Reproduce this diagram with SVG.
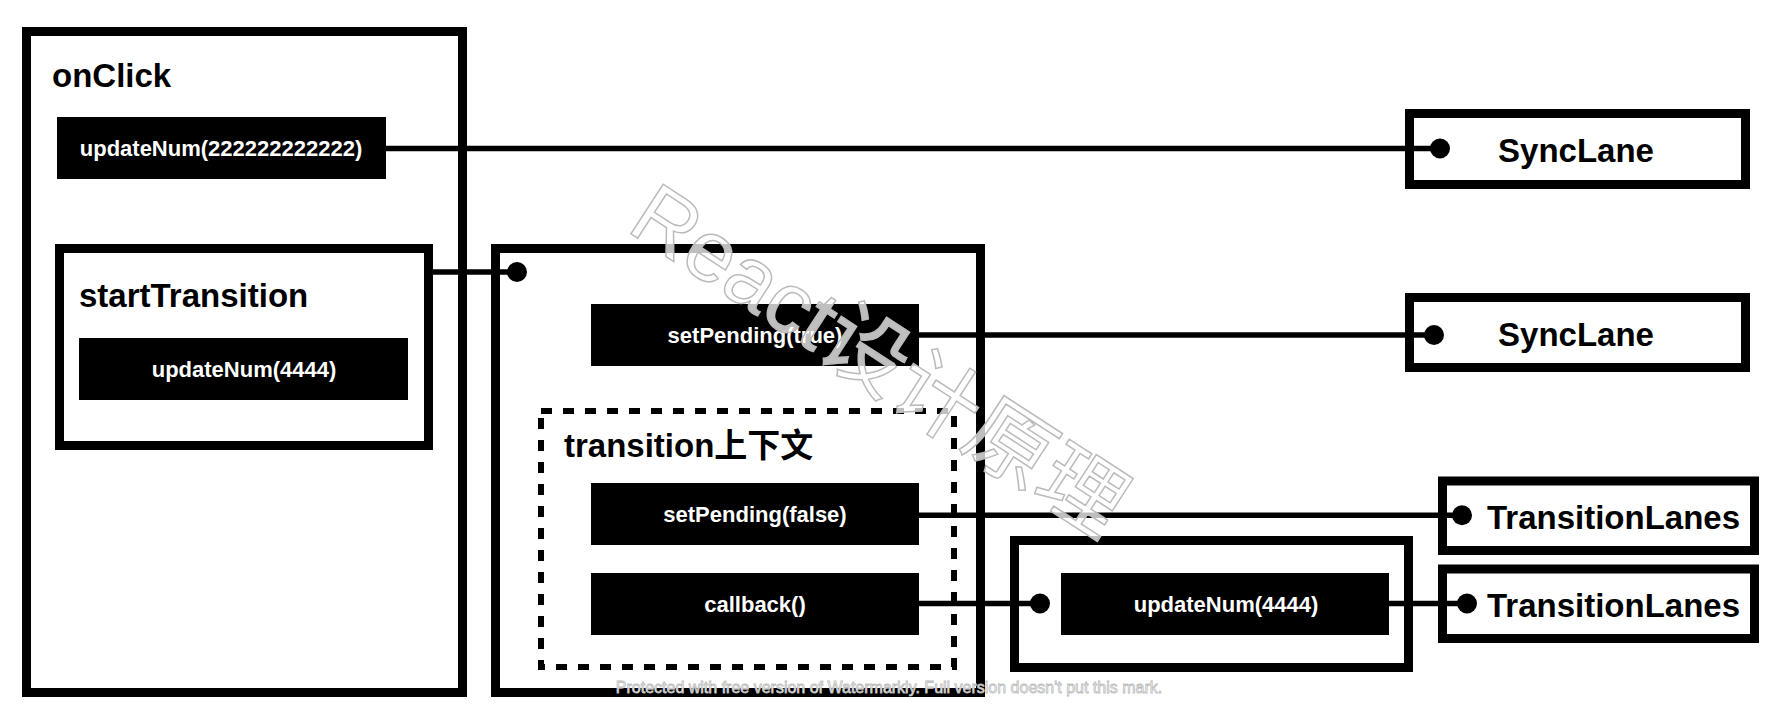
<svg xmlns="http://www.w3.org/2000/svg" width="1778" height="714" viewBox="0 0 1778 714">
<style>
.box{fill:#fff;stroke:#000;stroke-width:9}
.dash{fill:none;stroke:#000;stroke-width:6;stroke-dasharray:11 11}
.blk{fill:#000}
.wt{fill:#fff;font-family:"Liberation Sans",Arial,sans-serif;font-weight:bold;font-size:22px;text-anchor:middle;dominant-baseline:central}
.tt{fill:#000;font-family:"Liberation Sans","Noto Sans CJK SC",Arial,sans-serif;font-weight:bold;font-size:33px}
.ln{stroke:#000;stroke-width:5.5;fill:none}
.dot{fill:#000}
.wm{font-family:"Liberation Sans","Noto Sans CJK SC",sans-serif;fill:#fff;fill-opacity:0.75;stroke:#bbb;stroke-width:1.5}
.wm2{font-family:"Liberation Sans",sans-serif;fill:#fff;stroke:#bbb;stroke-width:0.8;font-size:16px;text-anchor:middle}
</style>
<rect width="1778" height="714" fill="#fff"/>
<g id="onClick">
<rect class="box" x="26.5" y="31.5" width="436" height="661"/>
<text class="tt" x="52" y="87">onClick</text>
</g>
<g id="updateNum222">
<rect class="blk" x="57" y="117" width="329" height="62"/>
<text class="wt" x="221" y="148.5">updateNum(222222222222)</text>
</g>
<g id="startTransition">
<rect class="box" x="59.5" y="248.5" width="369" height="197"/>
<text class="tt" x="79" y="307">startTransition</text>
<rect class="blk" x="79" y="338" width="329" height="62"/>
<text class="wt" x="244" y="369">updateNum(4444)</text>
</g>
<g id="transitionScope">
<rect class="box" x="495.5" y="248.5" width="485" height="444"/>
</g>
<g id="setPendingTrue">
<rect class="blk" x="591" y="304" width="328" height="62"/>
<text class="wt" x="755" y="335">setPending(true)</text>
</g>
<g id="transitionContext">
<rect class="dash" x="541" y="411" width="413" height="256"/>
<text class="tt" x="564" y="456.5">transition上下文</text>
</g>
<g id="setPendingFalse">
<rect class="blk" x="591" y="483" width="328" height="62"/>
<text class="wt" x="755" y="514.5">setPending(false)</text>
</g>
<g id="callback">
<rect class="blk" x="591" y="573" width="328" height="62"/>
<text class="wt" x="755" y="604">callback()</text>
</g>
<g id="callbackBody">
<rect class="box" x="1014.5" y="540.5" width="394" height="127"/>
<rect class="blk" x="1061" y="573" width="328" height="62"/>
<text class="wt" x="1226" y="604">updateNum(4444)</text>
</g>
<g id="syncLane1">
<rect class="box" x="1409.5" y="113.5" width="336" height="71"/>
<text class="tt" x="1576" y="162" text-anchor="middle">SyncLane</text>
</g>
<g id="syncLane2">
<rect class="box" x="1409.5" y="297.5" width="336" height="70"/>
<text class="tt" x="1576" y="346" text-anchor="middle">SyncLane</text>
</g>
<g id="transitionLanes1">
<rect class="box" x="1442.5" y="481" width="312" height="69.5"/>
<text class="tt" x="1487" y="529">TransitionLanes</text>
</g>
<g id="transitionLanes2">
<rect class="box" x="1442.5" y="569" width="312" height="69.5"/>
<text class="tt" x="1487" y="617">TransitionLanes</text>
</g>
<g id="connectors">
<line class="ln" x1="386" y1="148.5" x2="1440" y2="148.5"/><circle class="dot" cx="1440" cy="148.5" r="10"/>
<line class="ln" x1="433" y1="272" x2="517" y2="272"/><circle class="dot" cx="517" cy="272" r="10"/>
<line class="ln" x1="919" y1="335" x2="1434" y2="335"/><circle class="dot" cx="1434" cy="335" r="10"/>
<line class="ln" x1="919" y1="515.3" x2="1462" y2="515.3"/><circle class="dot" cx="1462" cy="515.3" r="10"/>
<line class="ln" x1="919" y1="603.5" x2="1040" y2="603.5"/><circle class="dot" cx="1040" cy="603.5" r="10"/>
<line class="ln" x1="1389" y1="603.5" x2="1467" y2="603.5"/><circle class="dot" cx="1467" cy="603.5" r="10"/>
</g>
<g id="watermark">
<text class="wm" x="0" y="0" font-size="86" transform="translate(625,230) rotate(33)">React设计原理</text>
<text class="wm2" x="889" y="693">Protected with free version of Watermarkly. Full version doesn't put this mark.</text>
</g>
</svg>
